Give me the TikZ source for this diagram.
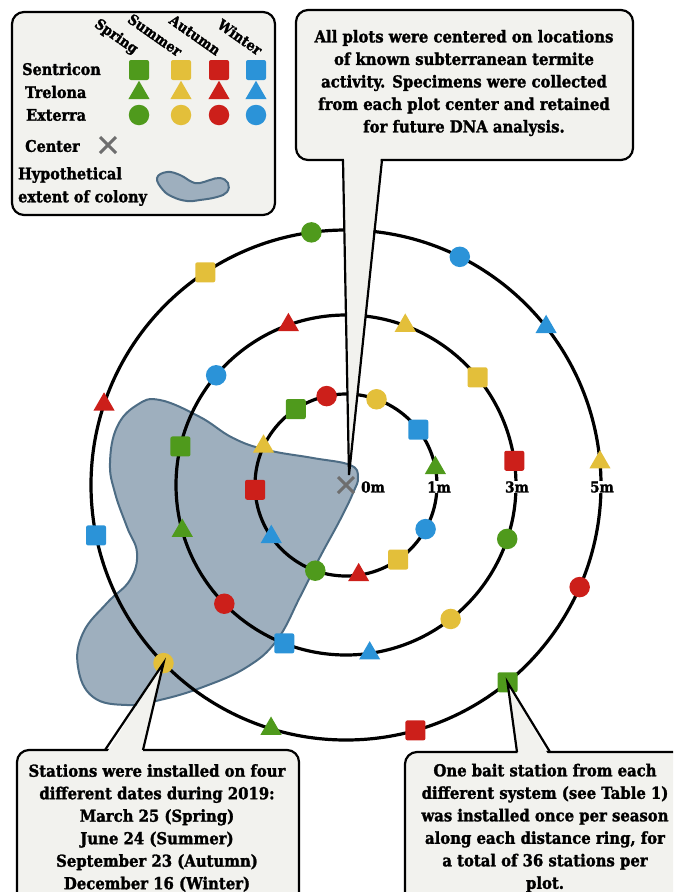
\documentclass[tikz,border=0pt]{standalone}
\usepackage{fontspec}
\setmainfont{DejaVu Serif Condensed}[BoldFeatures={FakeBold=1.6}]
\usetikzlibrary{shapes.geometric}

\definecolor{sgreen}{HTML}{4F9A1C}
\definecolor{syellow}{HTML}{E3BF3A}
\definecolor{sred}{HTML}{CC1F1A}
\definecolor{sblue}{HTML}{2B93D8}
\definecolor{colonyfill}{HTML}{9EAFBE}
\definecolor{colonyline}{HTML}{4D6C84}
\definecolor{boxfill}{HTML}{F2F2EE}
\definecolor{xgray}{HTML}{6E6E6E}

\tikzset{
  ring/.style={line width=3.2pt},
  sqr/.style={rectangle, rounded corners=2pt, minimum size=20pt, inner sep=0pt},
  tri/.style={regular polygon, regular polygon sides=3, minimum size=24.5pt, inner sep=0pt},
  disc/.style={circle, minimum size=20.5pt, inner sep=0pt},
  colony/.style={draw=colonyline, fill=colonyfill, line width=2pt},
  callout/.style={draw, line width=2.2pt, fill=boxfill, rounded corners=12pt},
  tailline/.style={line width=2.2pt, line join=miter},
  calltext/.style={align=center, font=\bfseries\fontsize{16.5}{22.5}\selectfont},
  legtext/.style={inner sep=0pt, font=\bfseries\fontsize{16}{18}\selectfont},
  seastext/.style={inner sep=0pt, rotate=-35, font=\bfseries\fontsize{14.5}{16}\selectfont},
  ringlbl/.style={fill=white, inner sep=0.6pt, font=\bfseries\fontsize{15}{17}\selectfont},
  ctrmark/.style={draw=xgray, line width=3pt}
}

\begin{document}
\begin{tikzpicture}[x=1pt, y=-1pt]
  \useasboundingbox (0,0) rectangle (673,892);
  \clip (0,0) rectangle (673,892);

  % colony outline
  \draw[colony] plot[smooth cycle, tension=0.7] coordinates {
    (160,400) (200,417) (233,438) (267,450) (313,458) (350,465) (358,477)
    (353,493) (340,520) (320,557) (300,597) (277,640) (247,667) (203,687)
    (160,700) (127,705) (93,697) (78,667) (83,633) (107,603) (130,580)
    (137,553) (127,527) (115,493) (110,463) (117,427) (137,405)};

  \begin{scope}[shift={(346,485)}, yscale=-1]
    % distance rings
    \foreach \r in {91,170,255}
      \draw[ring] (0,0) circle[radius=\r];
    % plot center
    \draw[ctrmark] (-8,-8) -- (8,8) (-8,8) -- (8,-8);
    \coordinate (ctr) at (3,10);
    % 1m ring
    \foreach \a/\s/\c [count=\k] in {102.3/disc/sred, 70.4/disc/syellow,
        123.5/sqr/sgreen, 37.4/sqr/sblue, 155/tri/syellow, 10.8/tri/sgreen,
        183/sqr/sred, 331/disc/sblue, 214.8/tri/sblue, 305/sqr/syellow,
        250.3/disc/sgreen, 278/tri/sred}
      \node[\s, fill=\c] (in\k) at (\a:91) {};
    % 3m ring
    \foreach \a/\s/\c [count=\k] in {109.8/tri/sred, 69.6/tri/syellow,
        139.8/disc/sblue, 39.3/sqr/syellow, 166.9/sqr/sgreen, 8.2/sqr/sred,
        195.6/tri/sgreen, 341.5/disc/sgreen, 224.3/disc/sred, 308/disc/syellow,
        248.7/sqr/sblue, 278/tri/sblue}
      \node[\s, fill=\c] (mid\k) at (\a:170) {};
    % 5m ring
    \foreach \a/\s/\c [count=\k] in {97.8/disc/sgreen, 63.5/disc/sblue,
        123.5/sqr/syellow, 38.3/tri/sblue, 161.6/tri/sred, 5.1/tri/syellow,
        191.4/sqr/sblue, 336.4/disc/sred, 224.3/disc/syellow, 309.3/sqr/sgreen,
        252.9/tri/sgreen, 285.8/sqr/sred}
      \node[\s, fill=\c] (out\k) at (\a:255) {};
  \end{scope}

  % ring distances
  \node[ringlbl] (m0) at (373,487) {0m};
  \node[ringlbl] (m1) at (439,487) {1m};
  \node[ringlbl] (m3) at (517,487) {3m};
  \node[ringlbl] (m5) at (602,487) {5m};

  % top note
  \draw[callout] (296,10) rectangle (633,160);
  \fill[boxfill] (344,156) -- (ctr) -- (381,156) -- cycle;
  \draw[tailline] (343,160) -- (ctr) -- (382,160);
  \node[calltext] (note1) at (464,83) {All plots were centered on locations\\
    of known subterranean termite\\ activity. Specimens were collected\\
    from each plot center and retained\\ for future DNA analysis.};

  % dates note
  \draw[callout] (17,750) rectangle (299,910);
  \fill[boxfill] (106,754) -- (out9.center) -- (142,754) -- cycle;
  \draw[tailline] (105,750) -- (out9.center) -- (143,750);
  \node[calltext] (note2) at (157,828) {Stations were installed on four\\
    different dates during 2019:\\ March 25 (Spring)\\ June 24 (Summer)\\
    September 23 (Autumn)\\ December 16 (Winter)};

  % stations note
  \draw[callout] (405,752) rectangle (700,910);
  \fill[boxfill] (518,756) -- (out10.center) -- (549,756) -- cycle;
  \draw[tailline] (517,752) -- (out10.center) -- (550,752);
  \node[calltext] (note3) at (545,828) {One bait station from each\\
    different system (see Table 1)\\ was installed once per season\\
    along each distance ring, for\\ a total of 36 stations per\\ plot.};

  % legend
  \draw[callout] (12,12) rectangle (275,215);
  \node[seastext] (lspr) at (116,37) {Spring};
  \node[seastext] (lsum) at (155,35) {Summer};
  \node[seastext] (laut) at (195,35) {Autumn};
  \node[seastext] (lwin) at (240,37) {Winter};
  \node[legtext, anchor=west] (lsen) at (22,69) {Sentricon};
  \node[legtext, anchor=west] (ltre) at (25,92) {Trelona};
  \node[legtext, anchor=west] (lext) at (26,115) {Exterra};
  \node[legtext, anchor=west] (lctr) at (25,146) {Center};
  \node[legtext, anchor=west] (lhyp) at (18,175) {Hypothetical};
  \node[legtext, anchor=west] (lcol) at (18,198) {extent of colony};
  \foreach \c/\x [count=\k] in {sgreen/139, syellow/181, sred/219, sblue/256} {
    \node[sqr, fill=\c] (lsq\k) at (\x,70) {};
    \node[tri, fill=\c] (ltr\k) at (\x,93) {};
    \node[disc, fill=\c] (ldi\k) at (\x,115) {};
  }
  \draw[ctrmark] (100,137) -- (116,153) (100,153) -- (116,137);
  \draw[colony] plot[smooth cycle, tension=0.7] coordinates {
    (157,178) (167,172) (180,175) (192,182) (200,183) (210,180) (220,178)
    (228,183) (227,192) (217,197) (200,200) (187,201) (173,197) (163,190)};
\end{tikzpicture}
\end{document}
